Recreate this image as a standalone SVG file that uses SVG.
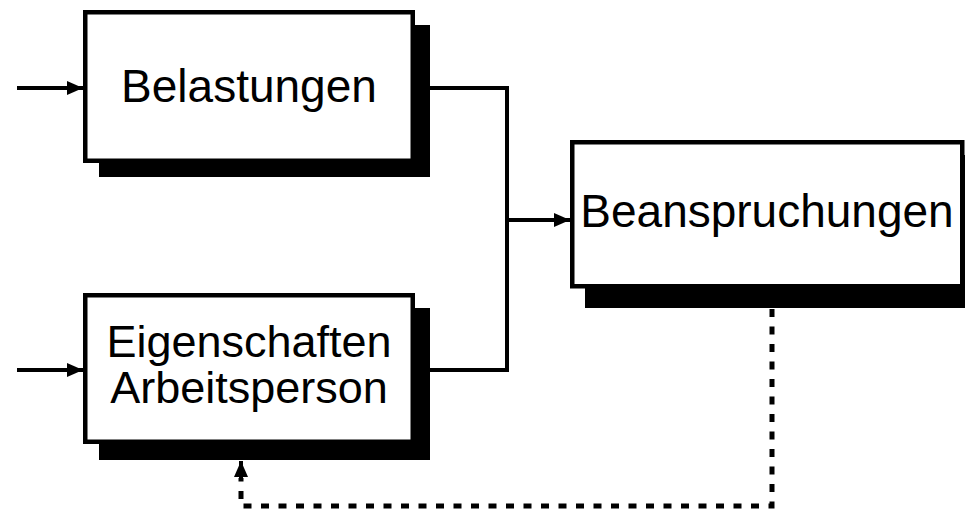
<svg xmlns="http://www.w3.org/2000/svg" width="965" height="510" viewBox="0 0 965 510">
  <style>
    .box { fill: #fff; stroke: #000; stroke-width: 4.5; }
    .shadow { fill: #000; }
    .label { font-family: "Liberation Sans", Arial, sans-serif; font-size: 46px; fill: #000; text-anchor: middle; }
    .small { font-size: 45px; }
    .line { fill: none; stroke: #000; stroke-width: 4; }
    .dash { fill: none; stroke: #000; stroke-width: 5; stroke-dasharray: 8 9.5; }
  </style>
  <defs>
    <marker id="arrow" markerUnits="userSpaceOnUse" markerWidth="16" markerHeight="14" refX="16" refY="7" orient="auto">
      <path d="M0,0 L16,7 L0,14 Z" fill="#000"/>
    </marker>
  </defs>
  <rect width="965" height="510" fill="#fff"/>

  <g id="connectors">
    <line class="line" x1="17" y1="88" x2="83" y2="88" marker-end="url(#arrow)"/>
    <line class="line" x1="17" y1="370" x2="83" y2="370" marker-end="url(#arrow)"/>
    <polyline class="line" points="430,88 507,88 507,370 430,370"/>
    <line class="line" x1="507" y1="220" x2="570" y2="220" marker-end="url(#arrow)"/>
    <polyline class="dash" points="772,309 772,506 241,506 241,478"/>
    <line class="line" x1="241" y1="480" x2="241" y2="461" marker-end="url(#arrow)"/>
  </g>

  <g id="belastungen">
    <rect class="shadow" x="99" y="25" width="331" height="152"/>
    <rect class="box" x="85.25" y="12.25" width="327.5" height="148.5"/>
    <text class="label" x="249" y="102">Belastungen</text>
  </g>

  <g id="eigenschaften">
    <rect class="shadow" x="99" y="308" width="331" height="152"/>
    <rect class="box" x="85.25" y="295.25" width="327.5" height="146.5"/>
    <text class="label small" x="249" y="357">Eigenschaften</text>
    <text class="label small" x="249" y="403">Arbeitsperson</text>
  </g>

  <g id="beanspruchungen">
    <rect class="shadow" x="585" y="155" width="385" height="153"/>
    <rect class="box" x="572.25" y="142.25" width="390" height="144"/>
    <text class="label" x="767" y="227">Beanspruchungen</text>
  </g>
</svg>
